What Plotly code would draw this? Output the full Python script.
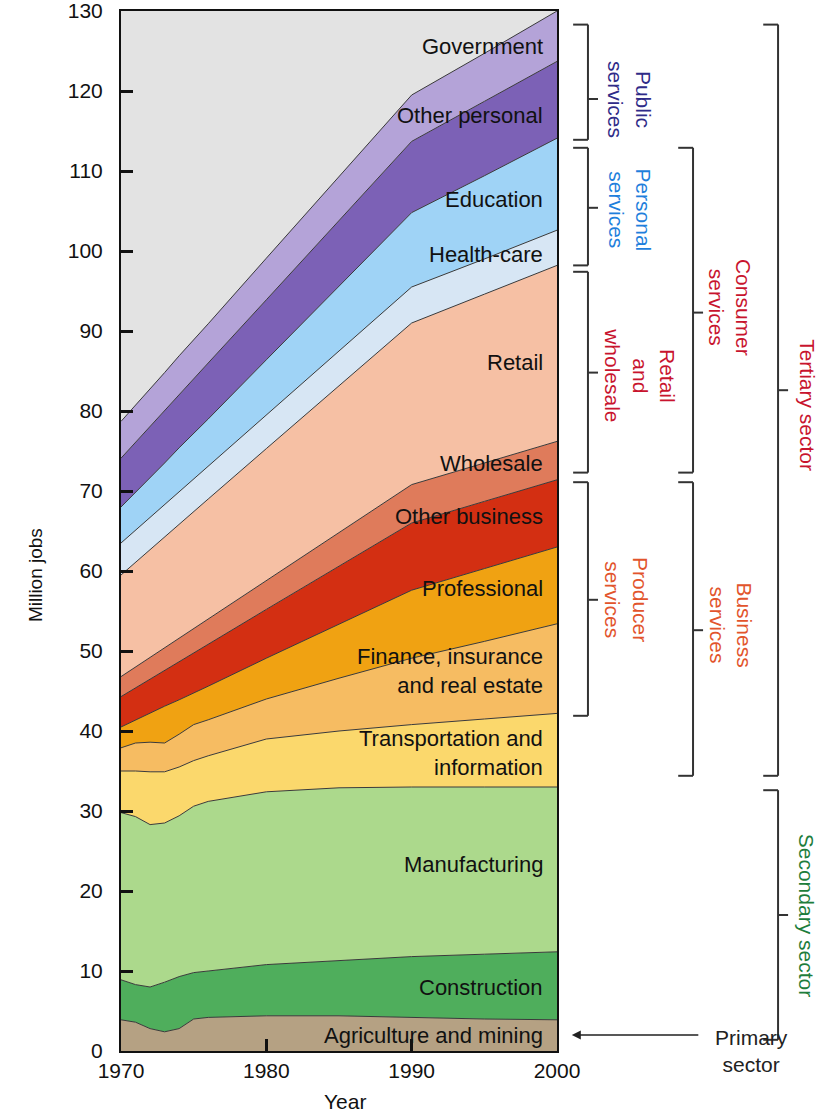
import plotly.graph_objects as go

years = [1970, 1971, 1972, 1973, 1974, 1975, 1976, 1980, 1985, 1990, 1995, 2000]

# million jobs per sector
agriculture = [3.9, 3.6, 2.8, 2.4, 2.8, 4.0, 4.2, 4.4, 4.4, 4.2, 4.0, 3.9]
construction = [5.0, 4.7, 5.2, 6.2, 6.5, 5.8, 5.8, 6.4, 6.9, 7.6, 8.1, 8.5]
manufacturing = [20.9, 21.0, 20.3, 19.9, 20.1, 20.8, 21.2, 21.6, 21.6, 21.2, 20.9, 20.6]
transportation = [5.2, 5.7, 6.6, 6.4, 6.1, 5.7, 5.7, 6.6, 7.1, 7.8, 8.5, 9.2]
finance = [2.9, 3.5, 3.7, 3.6, 4.1, 4.5, 4.5, 5.0, 6.6, 8.3, 9.7, 11.2]
professional = [2.6, 2.9, 3.6, 4.6, 4.3, 4.0, 4.2, 5.1, 6.7, 8.5, 9.1, 9.6]
other_business = [3.8, 4.0, 4.3, 4.5, 4.7, 4.9, 5.2, 6.1, 7.3, 8.4, 8.4, 8.4]
wholesale = [2.5, 2.6, 2.7, 2.8, 3.0, 3.1, 3.2, 3.6, 4.2, 4.8, 4.8, 4.8]
retail = [12.7, 13.1, 13.5, 13.8, 14.2, 14.6, 15.0, 16.5, 18.3, 20.2, 21.1, 22.0]
health_care = [4.0, 4.0, 4.0, 4.1, 4.1, 4.1, 4.1, 4.2, 4.4, 4.5, 4.4, 4.4]
education = [4.5, 4.7, 5.0, 5.2, 5.5, 5.7, 5.9, 6.9, 8.1, 9.3, 10.4, 11.5]
other_personal = [6.1, 6.3, 6.4, 6.5, 6.6, 6.8, 7.0, 7.5, 8.2, 8.9, 9.3, 9.6]
government = [4.6, 4.6, 4.7, 4.8, 4.9, 4.9, 4.9, 5.2, 5.5, 5.8, 6.0, 6.3]

sectors = [
    ("Agriculture and mining", agriculture, "#b5a183"),
    ("Construction", construction, "#4fae5c"),
    ("Manufacturing", manufacturing, "#acd98c"),
    ("Transportation and<br>information", transportation, "#fbd86c"),
    ("Finance, insurance<br>and real estate", finance, "#f6bc62"),
    ("Professional", professional, "#f0a212"),
    ("Other business", other_business, "#d32f12"),
    ("Wholesale", wholesale, "#df7b5b"),
    ("Retail", retail, "#f6c0a4"),
    ("Health-care", health_care, "#d7e6f4"),
    ("Education", education, "#9fd3f6"),
    ("Other personal", other_personal, "#7c61b6"),
    ("Government", government, "#b4a3d8"),
]

FONT = "Liberation Sans, Arial, sans-serif"

fig = go.Figure()
for name, vals, color in sectors:
    fig.add_trace(go.Scatter(
        x=years, y=vals, stackgroup="jobs", mode="lines",
        line=dict(color="#3a3a3a", width=1), fillcolor=color,
        name=name.replace("<br>", " "), hoverinfo="x+y+name"
    ))

# band labels, right-aligned inside the plot
label_y = [1.9, 7.9, 23.3, 37.3, 47.5, 57.8, 66.8, 73.5, 86.1, 99.6, 106.4, 117.0, 125.6]
for (name, _, _), y in zip(sectors, label_y):
    fig.add_annotation(x=0.973, xref="paper", y=y, yref="y", text=name,
                       showarrow=False, xanchor="right", align="right",
                       font=dict(family=FONT, size=22, color="#111"))

def bracket(x, y0, y1, ytick, arm=0.034, tick=0.023):
    style = dict(color="#333", width=2)
    fig.add_shape(type="line", xref="paper", yref="y", x0=x, x1=x, y0=y0, y1=y1, line=style)
    fig.add_shape(type="line", xref="paper", yref="y", x0=x - arm, x1=x, y0=y0, y1=y0, line=style)
    fig.add_shape(type="line", xref="paper", yref="y", x0=x - arm, x1=x, y0=y1, y1=y1, line=style)
    fig.add_shape(type="line", xref="paper", yref="y", x0=x, x1=x + tick, y0=ytick, y1=ytick, line=style)

bracket(1.071, 113.9, 128.3, 119.0)
bracket(1.071, 98.2, 112.9, 105.4)
bracket(1.071, 72.3, 97.4, 84.8)
bracket(1.071, 41.9, 71.1, 56.4)
bracket(1.312, 72.3, 112.9, 92.3)
bracket(1.312, 34.4, 71.1, 52.6)
bracket(1.507, 34.4, 128.3, 82.6)
bracket(1.507, 1.4, 32.6, 17.0)

groups = [
    ("Public<br>services", 1.167, 118.9, "#2f2b88"),
    ("Personal<br>services", 1.167, 105.1, "#1f7fdc"),
    ("Retail<br>and<br>wholesale", 1.19, 84.5, "#c8142e"),
    ("Consumer<br>services", 1.397, 93.0, "#c8142e"),
    ("Tertiary sector", 1.574, 80.7, "#c8142e"),
    ("Producer<br>services", 1.16, 56.4, "#e2542c"),
    ("Business<br>services", 1.399, 53.2, "#e2542c"),
    ("Secondary sector", 1.574, 17.0, "#1d7d3c"),
]
for text, x, y, color in groups:
    fig.add_annotation(x=x, xref="paper", y=y, yref="y", text=text, textangle=90,
                       showarrow=False, xanchor="center", yanchor="middle",
                       font=dict(family=FONT, size=21, color=color))

fig.add_annotation(x=1.445, xref="paper", y=0.0, yref="y", text="Primary<br>sector",
                   showarrow=False, xanchor="center", yanchor="middle",
                   font=dict(family=FONT, size=21, color="#222"))
fig.add_annotation(x=1.034, xref="paper", y=2.0, yref="y", text="", showarrow=True,
                   ax=128, ay=0, arrowhead=2, arrowsize=1.2, arrowwidth=1.5, arrowcolor="#222")

fig.add_annotation(x=-0.197, xref="paper", y=59.5, yref="y", text="Million jobs", textangle=-90,
                   showarrow=False, xanchor="center", yanchor="middle",
                   font=dict(family=FONT, size=19, color="#111"))
fig.add_annotation(x=0.514, xref="paper", y=-0.036, yref="paper", text="Year",
                   xanchor="center", yanchor="top", showarrow=False,
                   font=dict(family=FONT, size=21, color="#111"))

fig.update_xaxes(range=[1970, 2000], tickvals=[1970, 1980, 1990, 2000], ticks="inside",
                 ticklen=12, tickwidth=3, tickcolor="#111", showline=True, linewidth=2,
                 linecolor="#111", mirror=True, showgrid=False, zeroline=False,
                 automargin=False, ticklabeloverflow="allow",
                 tickfont=dict(family=FONT, size=21, color="#111"))
fig.update_yaxes(range=[0, 130], dtick=10, ticks="inside", ticklen=12, tickwidth=3,
                 tickcolor="#111", showline=True, linewidth=2, linecolor="#111", mirror=True,
                 showgrid=False, zeroline=False, ticklabelstandoff=12, automargin=False,
                 ticklabeloverflow="allow",
                 tickfont=dict(family=FONT, size=21, color="#111"))

fig.update_layout(
    width=819, height=1115,
    margin=dict(l=121, r=262, t=11, b=64),
    plot_bgcolor="#e3e3e3", paper_bgcolor="white",
    showlegend=False,
)

# drop the default 8px body margin so the figure fills the window
fig.write_html("out.html", config={"displayModeBar": False},
               post_script="document.body.style.margin='0';")
